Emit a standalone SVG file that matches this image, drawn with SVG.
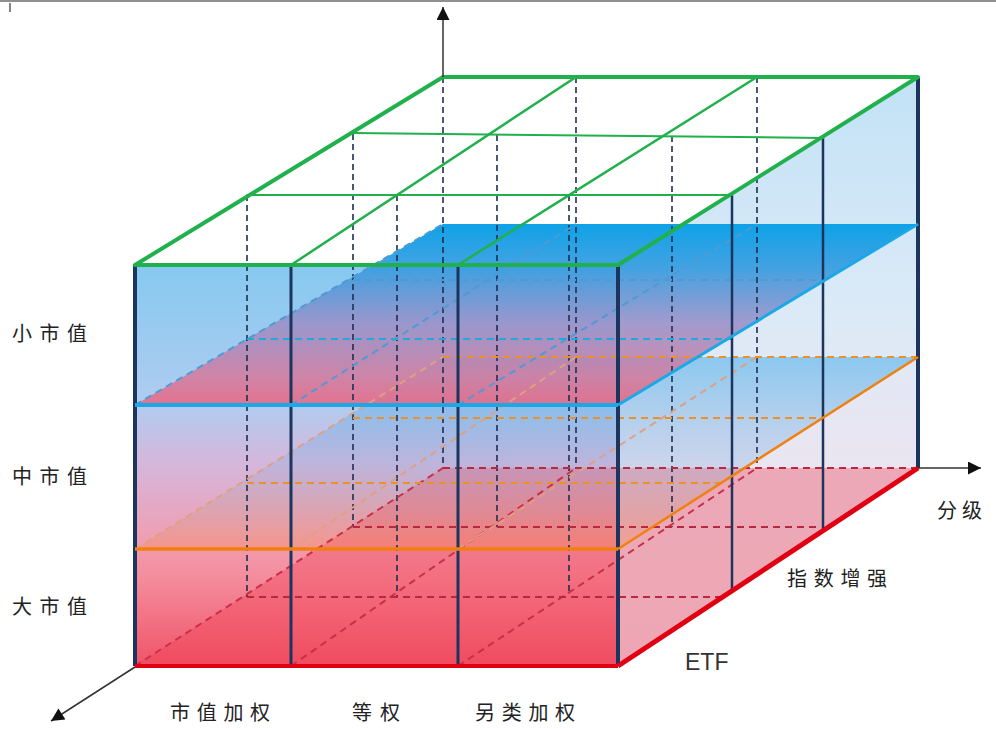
<svg xmlns="http://www.w3.org/2000/svg" width="996" height="729" viewBox="0 0 996 729">
<style>
.cj{font-family:"Noto Sans CJK SC","Noto Sans",sans-serif;font-size:20px;fill:#222;}
.en{font-family:"Liberation Sans",Arial,sans-serif;font-size:23px;fill:#333;}
.nv{stroke:#1c355e;fill:none;}
.nvd{stroke:#1e2e50;stroke-width:1.6;stroke-dasharray:6 4;fill:none;}
.gr{stroke:#20b04c;fill:none;stroke-linecap:round;stroke-linejoin:round;}
.bd{stroke:#4f9ad4;stroke-width:2;stroke-dasharray:7 5;fill:none;}
.bdc{stroke:#1eaadc;stroke-width:2;stroke-dasharray:7 5;fill:none;}
.od{stroke:#e8922a;stroke-width:2;stroke-dasharray:7 5;fill:none;}
.ods{stroke:#dea080;stroke-width:2;stroke-dasharray:7 5;fill:none;}
.rd{stroke:#b82840;stroke-width:2;stroke-dasharray:7 5;fill:none;}
.rds{stroke:#c8304a;stroke-width:2;stroke-dasharray:7 5;fill:none;}
.ax{stroke:#333;stroke-width:1.5;fill:none;}
</style>
<defs>
<linearGradient id="gFront" x1="0" y1="265" x2="0" y2="666" gradientUnits="userSpaceOnUse">
<stop offset="0" stop-color="#86c9f0"/>
<stop offset="0.35" stop-color="#b0ccf0"/>
<stop offset="0.5" stop-color="#d6b6da"/>
<stop offset="0.7" stop-color="#f19cae"/>
<stop offset="0.78" stop-color="#f48c9c"/>
<stop offset="1" stop-color="#f05468"/>
</linearGradient>
<linearGradient id="gRight" x1="0" y1="77" x2="0" y2="666" gradientUnits="userSpaceOnUse">
<stop offset="0" stop-color="#c2e2f6"/>
<stop offset="0.4" stop-color="#dceaf7"/>
<stop offset="0.6" stop-color="#e8e6f2"/>
<stop offset="1" stop-color="#eee2ec"/>
</linearGradient>
<linearGradient id="gBlue" x1="0" y1="224" x2="0" y2="405" gradientUnits="userSpaceOnUse">
<stop offset="0" stop-color="#0ea2e8"/>
<stop offset="0.25" stop-color="#3c9ee0" stop-opacity="0.95"/>
<stop offset="0.55" stop-color="#9a90c8" stop-opacity="0.88"/>
<stop offset="0.85" stop-color="#d47c9e" stop-opacity="0.9"/>
<stop offset="1" stop-color="#e86a86" stop-opacity="0.92"/>
</linearGradient>
<linearGradient id="gOrange" x1="0" y1="357" x2="0" y2="549" gradientUnits="userSpaceOnUse">
<stop offset="0" stop-color="#22a0e8" stop-opacity="0.45"/>
<stop offset="0.55" stop-color="#88b0e0" stop-opacity="0.32"/>
<stop offset="1" stop-color="#ff8a50" stop-opacity="0.35"/>
</linearGradient>
<marker id="arr" viewBox="0 0 10 10" refX="10" refY="5" markerWidth="15" markerHeight="13" markerUnits="userSpaceOnUse" orient="auto">
<path d="M0,0 L10,5 L0,10 z" fill="#111"/>
</marker>
</defs>

<line x1="0" y1="1" x2="996" y2="1" stroke="#909090" stroke-width="2"/>
<line x1="10" y1="3" x2="10" y2="12" stroke="#333" stroke-width="1.2"/>

<g id="faces">
<polygon id="right-face" points="618,265 918,77 918,468 618,666" fill="url(#gRight)"/>
<rect id="front-face" x="135" y="265" width="483" height="401" fill="url(#gFront)"/>
</g>

<g id="planes">
<polygon id="plane-red" points="135,666 618,666 918,468 443,468" fill="#f03c50" fill-opacity="0.36"/>
<polygon id="plane-orange" points="135,549 618,549 918,357 443,357" fill="url(#gOrange)"/>
<polygon id="plane-blue" points="135,405 618,405 918,224 443,224" fill="url(#gBlue)"/>
</g>

<g id="connectors">
<g id="hidden-verticals">
<line class="nvd" x1="247" y1="195" x2="247" y2="597"/>
<line class="nvd" x1="397" y1="195" x2="397" y2="597"/>
<line class="nvd" x1="569" y1="195" x2="569" y2="595"/>
<line class="nvd" x1="353" y1="134" x2="353" y2="527"/>
<line class="nvd" x1="497" y1="135" x2="497" y2="527"/>
<line class="nvd" x1="672" y1="136" x2="672" y2="527"/>
<line class="nvd" x1="443" y1="77" x2="443" y2="468"/>
<line class="nvd" x1="576" y1="77" x2="576" y2="468"/>
<line class="nvd" x1="757" y1="77" x2="757" y2="468"/>
</g>
<g id="red-grid">
<line class="rds" x1="135" y1="666" x2="443" y2="468"/>
<line class="rds" x1="291" y1="666" x2="576" y2="468"/>
<line class="rds" x1="458" y1="666" x2="757" y2="468"/>
<line class="rd" x1="247" y1="597" x2="722" y2="597"/>
<line class="rd" x1="353" y1="527" x2="820" y2="527"/>
<line class="rd" x1="443" y1="468" x2="918" y2="468"/>
</g>
<g id="orange-grid">
<line class="ods" x1="135" y1="549" x2="443" y2="357"/>
<line class="ods" x1="291" y1="549" x2="576" y2="357"/>
<line class="ods" x1="458" y1="549" x2="757" y2="357"/>
<line class="od" x1="247" y1="483" x2="722" y2="483"/>
<line class="od" x1="353" y1="418" x2="823" y2="418"/>
<line class="od" x1="443" y1="357" x2="918" y2="357"/>
</g>
<g id="blue-grid">
<line class="bd" x1="135" y1="405" x2="443" y2="224"/>
<line class="bd" x1="291" y1="405" x2="576" y2="224"/>
<line class="bd" x1="458" y1="405" x2="757" y2="224"/>
<line class="bdc" x1="247" y1="339" x2="732" y2="339"/>
<line class="bd" x1="353" y1="280" x2="823" y2="280"/>
</g>
<g id="solid-verticals">
<line class="nv" stroke-width="4" x1="135" y1="265" x2="135" y2="666"/>
<line class="nv" stroke-width="3" x1="291" y1="265" x2="291" y2="666"/>
<line class="nv" stroke-width="3" x1="458" y1="265" x2="458" y2="666"/>
<line class="nv" stroke-width="4" x1="618" y1="265" x2="618" y2="666"/>
<line class="nv" stroke-width="2.5" x1="732" y1="195" x2="732" y2="592"/>
<line class="nv" stroke-width="2.5" x1="823" y1="138" x2="823" y2="529"/>
<line class="nv" stroke-width="4" x1="918" y1="77" x2="918" y2="468"/>
</g>
<g id="plane-edges">
<line x1="135" y1="405" x2="618" y2="405" stroke="#1aa8e6" stroke-width="4"/>
<line x1="618" y1="405" x2="918" y2="224" stroke="#1aa8e6" stroke-width="3"/>
<line x1="135" y1="549" x2="618" y2="549" stroke="#f07f10" stroke-width="3.5"/>
<line x1="618" y1="549" x2="918" y2="357" stroke="#f08010" stroke-width="2.5"/>
<line x1="135" y1="666" x2="618" y2="666" stroke="#e00012" stroke-width="4"/>
<line x1="618" y1="666" x2="918" y2="468" stroke="#e00012" stroke-width="5"/>
</g>
<g id="top-grid">
<line class="gr" stroke-width="2" x1="247" y1="195" x2="732" y2="195"/>
<line class="gr" stroke-width="2" x1="353" y1="133" x2="823" y2="138"/>
<line class="gr" stroke-width="2.5" x1="291" y1="265" x2="576" y2="77"/>
<line class="gr" stroke-width="2.5" x1="458" y1="265" x2="757" y2="77"/>
<polygon class="gr" stroke-width="4" points="135,265 618,265 918,77 443,77"/>
</g>
<g id="axes">
<line class="ax" x1="443" y1="77" x2="443" y2="7" marker-end="url(#arr)"/>
<line class="ax" x1="918" y1="468" x2="981" y2="468" marker-end="url(#arr)"/>
<line class="ax" x1="135" y1="667" x2="51" y2="721" marker-end="url(#arr)"/>
</g>
</g>

<g id="labels">
<text class="cj" x="12" y="341" letter-spacing="7.5">小市值</text>
<text class="cj" x="12" y="484" letter-spacing="7.5">中市值</text>
<text class="cj" x="12" y="614" letter-spacing="7.5">大市值</text>
<text class="cj" x="170" y="720" letter-spacing="6.7">市值加权</text>
<text class="cj" x="352" y="720" letter-spacing="8">等权</text>
<text class="cj" x="475" y="720" letter-spacing="6.7">另类加权</text>
<text class="cj" x="787" y="586" letter-spacing="6.7">指数增强</text>
<text class="cj" x="937" y="518" letter-spacing="5">分级</text>
<text class="en" x="685" y="670">ETF</text>
</g>
</svg>
